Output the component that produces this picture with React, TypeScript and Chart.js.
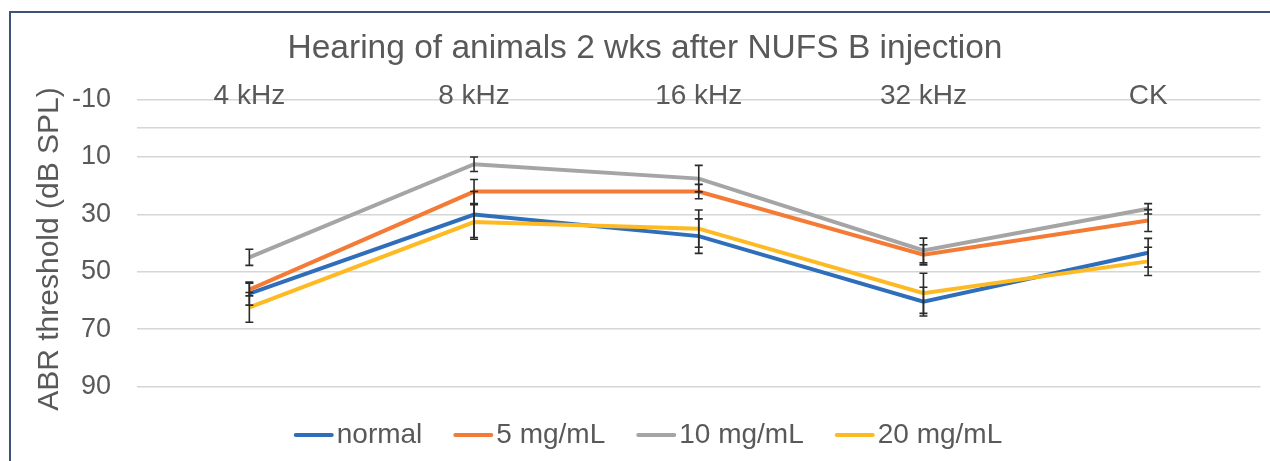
import React, { useEffect, useRef } from 'react';
import { Chart, registerables } from 'chart.js';

Chart.register(...registerables);

const chartTitle = 'Hearing of animals 2 wks after NUFS B injection';
const yAxisTitle = 'ABR threshold (dB SPL)';
const categories = ['4 kHz', '8 kHz', '16 kHz', '32 kHz', 'CK'];
const seriesNames = ['normal', '5 mg/mL', '10 mg/mL', '20 mg/mL'];
const seriesColors = ['#2F6EBA', '#F47B36', '#A5A5A5', '#FDBA22'];

const normalValues = [57.6, 30.1, 37.6, 60.4, 43.4];
const mg5Values = [56.2, 22.1, 22.1, 44.1, 32.2];
const mg10Values = [45.0, 12.6, 17.6, 42.6, 28.1];
const mg20Values = [62.4, 32.7, 35.0, 57.5, 46.4];

const normalErrors = [4.0, 8.0, 6.0, 5.0, 5.0];
const mg5Errors = [2.2, 4.2, 2.5, 3.5, 3.8];
const mg10Errors = [2.8, 2.5, 4.6, 4.3, 1.8];
const mg20Errors = [5.2, 6.0, 6.5, 7.0, 4.9];

const yGridValues = [-10, 0, 10, 30, 50, 70, 90];
const yTickLabels = [-10, 10, 30, 50, 70, 90];

const seriesValues = [normalValues, mg5Values, mg10Values, mg20Values];
const seriesErrors = [normalErrors, mg5Errors, mg10Errors, mg20Errors];

const FONT = '"Liberation Sans", Arial, sans-serif';
const TEXT_COLOR = '#595959';

const errorBarPlugin = {
  id: 'errorBars',
  afterDatasetsDraw(chart: any) {
    const ctx = chart.ctx;
    const ys = chart.scales.y;
    ctx.save();
    ctx.strokeStyle = '#2B2B2B';
    ctx.lineWidth = 1.6;
    seriesErrors.forEach((errs, i) => {
      const meta = chart.getDatasetMeta(i);
      errs.forEach((e, j) => {
        const pt = meta.data[j];
        if (!pt) return;
        const v = seriesValues[i][j];
        const x = pt.x;
        const y1 = ys.getPixelForValue(v - e);
        const y2 = ys.getPixelForValue(v + e);
        ctx.beginPath();
        ctx.moveTo(x, y1);
        ctx.lineTo(x, y2);
        ctx.moveTo(x - 4, y1);
        ctx.lineTo(x + 4, y1);
        ctx.moveTo(x - 4, y2);
        ctx.lineTo(x + 4, y2);
        ctx.stroke();
      });
    });
    ctx.restore();
  },
};

const textPlugin = {
  id: 'texts',
  afterDraw(chart: any) {
    const ctx = chart.ctx;
    const xs = chart.scales.x;
    const ys = chart.scales.y;
    ctx.save();
    ctx.fillStyle = TEXT_COLOR;
    // title
    ctx.font = `33.5px ${FONT}`;
    ctx.textAlign = 'center';
    ctx.textBaseline = 'alphabetic';
    ctx.fillText(chartTitle, 645, 58);
    // category labels at the top
    ctx.font = `28px ${FONT}`;
    const topY = ys.getPixelForValue(-10);
    categories.forEach((c, j) => {
      ctx.fillText(c, xs.getPixelForValue(j), topY + 5);
    });
    // y-axis title
    ctx.save();
    ctx.translate(50, 249);
    ctx.rotate(-Math.PI / 2);
    ctx.font = `30px ${FONT}`;
    ctx.textAlign = 'center';
    ctx.textBaseline = 'middle';
    ctx.fillText(yAxisTitle, 0, 0);
    ctx.restore();
    // legend
    ctx.font = `28px ${FONT}`;
    const lineW = 40;
    const gapText = 3;
    const gapItem = 31;
    const widths = seriesNames.map((n) => ctx.measureText(n).width);
    const total = widths.reduce((a, w) => a + lineW + gapText + w, 0) + gapItem * (seriesNames.length - 1);
    let x = 648 - total / 2;
    const ly = 435;
    ctx.textAlign = 'left';
    ctx.textBaseline = 'middle';
    seriesNames.forEach((n, i) => {
      ctx.strokeStyle = seriesColors[i];
      ctx.lineWidth = 4;
      ctx.lineCap = 'round';
      ctx.beginPath();
      ctx.moveTo(x + 2, ly);
      ctx.lineTo(x + lineW - 2, ly);
      ctx.stroke();
      ctx.fillStyle = TEXT_COLOR;
      ctx.fillText(n, x + lineW + gapText, ly);
      x += lineW + gapText + widths[i] + gapItem;
    });
    ctx.restore();
  },
};

export default function App() {
  const ref = useRef<HTMLCanvasElement>(null);
  useEffect(() => {
    const chart = new Chart(ref.current as HTMLCanvasElement, {
      type: 'line',
      data: {
        labels: categories,
        datasets: seriesNames.map((name, i) => ({
          label: name,
          data: seriesValues[i],
          borderColor: seriesColors[i],
          backgroundColor: seriesColors[i],
          borderWidth: 4,
          pointRadius: 0,
          pointHoverRadius: 0,
          fill: false,
          tension: 0,
          order: seriesNames.length - i,
        })),
      },
      options: {
        responsive: false,
        animation: false,
        devicePixelRatio: 1,
        layout: { padding: { top: 99.3, bottom: 74.3, left: 0, right: 9.5 } },
        plugins: {
          legend: { display: false },
          title: { display: false },
          tooltip: { enabled: false },
        },
        scales: {
          x: {
            type: 'category',
            display: false,
            offset: true,
          },
          y: {
            type: 'linear',
            reverse: true,
            min: -10,
            max: 90,
            afterBuildTicks: (scale: any) => {
              scale.ticks = yGridValues.map((v) => ({ value: v }));
            },
            afterFit: (scale: any) => {
              scale.width = 137;
            },
            ticks: {
              autoSkip: false,
              padding: 26,
              color: TEXT_COLOR,
              font: { family: FONT, size: 27 },
              callback: (v: any) => (yTickLabels.includes(Number(v)) ? String(v) : ''),
            },
            grid: {
              color: '#D6D6D6',
              lineWidth: 1.5,
              drawTicks: false,
            },
            border: { display: false },
            title: { display: false },
          },
        },
      },
      plugins: [errorBarPlugin, textPlugin],
    });
    return () => chart.destroy();
  }, []);

  return (
    <div style={{ position: 'fixed', left: 0, top: 0, width: 1270, height: 461, background: '#fff', overflow: 'hidden' }}>
      <div
        style={{
          position: 'absolute',
          left: 9,
          top: 11,
          width: 1300,
          height: 500,
          borderLeft: '2px solid #3D5478',
          borderTop: '2px solid #3D5478',
        }}
      />
      <canvas
        ref={ref}
        width={1270}
        height={461}
        style={{ position: 'absolute', left: 0, top: 0, width: 1270, height: 461 }}
      />
    </div>
  );
}
